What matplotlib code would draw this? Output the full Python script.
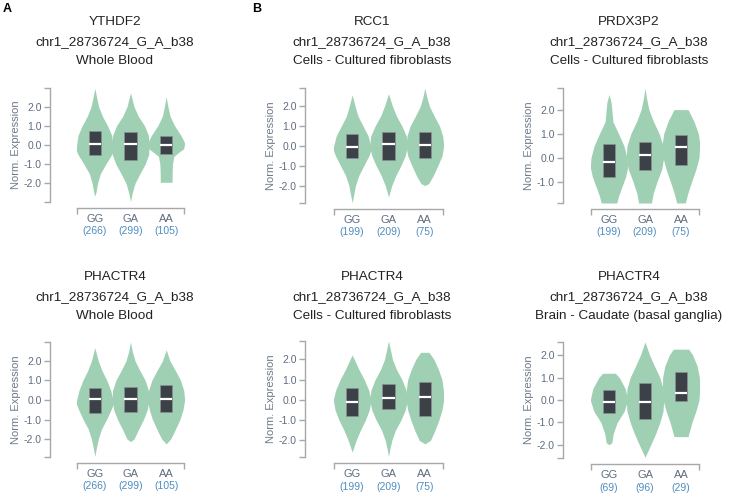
import matplotlib.pyplot as plt

plt.rcParams['font.family'] = ['Liberation Sans', 'DejaVu Sans']

genotypes = ['GG', 'GA', 'AA']
snp = 'chr1_28736724_G_A_b38'

genes = ['YTHDF2', 'RCC1', 'PRDX3P2', 'PHACTR4', 'PHACTR4', 'PHACTR4']
tissues = ['Whole Blood', 'Cells - Cultured fibroblasts', 'Cells - Cultured fibroblasts',
           'Whole Blood', 'Cells - Cultured fibroblasts', 'Brain - Caudate (basal ganglia)']
counts = [[266, 299, 105], [199, 209, 75], [199, 209, 75],
          [266, 299, 105], [199, 209, 75], [69, 96, 29]]

# box stats per panel (GG, GA, AA)
q1 = [[-0.55, -0.79, -0.50], [-0.60, -0.73, -0.60], [-0.80, -0.51, -0.32],
      [-0.69, -0.61, -0.59], [-0.81, -0.44, -0.81], [-0.59, -0.85, -0.03]]
med = [[0.07, 0.03, -0.02], [-0.07, 0.10, 0.03], [-0.18, 0.10, 0.43],
       [0.05, 0.05, 0.05], [-0.08, 0.10, 0.13], [-0.07, -0.10, 0.32]]
q3 = [[0.70, 0.67, 0.46], [0.58, 0.72, 0.72], [0.58, 0.65, 0.96],
      [0.61, 0.69, 0.78], [0.61, 0.77, 0.90], [0.45, 0.75, 1.26]]

ylims = [(-2.98, 2.97), (-2.88, 2.92), (-1.89, 2.90),
         (-2.92, 2.97), (-2.82, 2.91), (-2.58, 2.58)]
yticks = [[-2, -1, 0, 1, 2], [-2, -1, 0, 1, 2], [-1, 0, 1, 2],
          [-2, -1, 0, 1, 2], [-2, -1, 0, 1, 2], [-2, -1, 0, 1, 2]]

# violin outlines: (expression values, relative widths)
p1_gg = ([-2.67, -2.5, -2.0, -1.5, -1.0, -0.5, -0.3, 0.0, 0.5, 1.0, 1.5, 2.0, 2.5, 2.95],
         [0, 3, 8, 16, 32, 49, 54, 53, 49, 37, 22, 11, 5, 0])
p1_ga = ([-2.96, -2.5, -2.0, -1.5, -1.0, -0.5, 0.0, 0.5, 1.0, 1.5, 2.0, 2.72],
         [0, 5, 13, 27, 42, 52, 53, 51, 40, 22, 10, 0])
p1_aa = ([-1.95, -1.5, -1.0, -0.6, -0.4, -0.2, 0.1, 0.5, 1.0, 1.5, 2.0, 2.51],
         [17, 17, 18, 22, 35, 50, 53, 42, 24, 11, 5, 0])

p2_gg = ([-2.87, -2.5, -2.0, -1.5, -1.0, -0.5, -0.2, 0.0, 0.5, 1.0, 1.5, 2.0, 2.58],
         [0, 4, 9, 18, 32, 46, 52, 51, 44, 30, 16, 8, 0])
p2_ga = ([-2.58, -2.0, -1.5, -1.0, -0.5, 0.0, 0.5, 1.0, 1.5, 2.0, 2.63],
         [0, 9, 20, 34, 46, 52, 49, 37, 22, 11, 0])
p2_aa = ([-2.0, -1.9, -1.5, -1.0, -0.5, 0.0, 0.5, 1.0, 1.5, 2.0, 2.5, 2.92],
         [0, 11, 24, 37, 49, 54, 51, 42, 27, 13, 5, 0])

p3_gg = ([-1.89, -1.6, -1.2, -0.8, -0.4, 0.0, 0.5, 1.0, 1.5, 2.0, 2.3, 2.63],
         [22, 27, 37, 47, 53, 51, 42, 27, 11, 8, 6, 0])
p3_ga = ([-1.89, -1.5, -1.0, -0.5, 0.0, 0.5, 1.0, 1.5, 2.0, 2.5, 2.9],
         [18, 23, 34, 47, 53, 51, 40, 24, 11, 4, 0])
p3_aa = ([-1.89, -1.5, -1.0, -0.5, 0.0, 0.6, 1.0, 1.5, 2.0],
         [12, 19, 30, 42, 51, 53, 49, 37, 20])

p4_gg = ([-2.89, -2.5, -2.0, -1.5, -1.0, -0.5, -0.2, 0.0, 0.5, 1.0, 1.5, 2.0, 2.68],
         [0, 4, 10, 19, 34, 47, 54, 53, 46, 35, 21, 10, 0])
p4_ga = ([-2.13, -2.0, -1.5, -1.0, -0.5, 0.0, 0.5, 1.0, 1.5, 2.0, 2.5, 2.97],
         [0, 10, 23, 37, 48, 53, 51, 42, 27, 13, 5, 0])
p4_aa = ([-2.25, -2.0, -1.5, -1.0, -0.5, 0.0, 0.5, 1.0, 1.5, 2.0, 2.57],
         [0, 13, 27, 40, 49, 54, 51, 42, 27, 11, 0])

p5_gg = ([-2.58, -2.0, -1.5, -1.0, -0.5, 0.0, 0.5, 1.0, 1.5, 2.0, 2.22],
         [0, 11, 23, 37, 48, 53, 46, 34, 19, 6, 0])
p5_ga = ([-2.8, -2.5, -2.0, -1.5, -1.0, -0.5, 0.0, 0.5, 1.0, 1.5, 2.0, 2.5, 2.91],
         [0, 3, 9, 19, 34, 46, 52, 48, 37, 22, 11, 5, 0])
p5_aa = ([-2.17, -2.0, -1.5, -1.0, -0.5, 0.0, 0.5, 1.0, 1.5, 2.0, 2.35],
         [0, 16, 29, 40, 49, 54, 53, 49, 39, 26, 12])

p6_gg = ([-1.99, -1.9, -1.5, -1.0, -0.5, 0.0, 0.5, 1.0, 1.19],
         [0, 8, 12, 23, 43, 53, 46, 29, 18])
p6_ga = ([-2.55, -2.0, -1.5, -1.0, -0.5, 0.0, 0.5, 1.0, 1.5, 2.0, 2.58],
         [0, 16, 30, 42, 51, 53, 51, 42, 27, 13, 0])
p6_aa = ([-1.63, -1.5, -1.0, -0.5, 0.0, 0.5, 1.0, 1.5, 2.0, 2.26],
         [20, 22, 31, 42, 51, 53, 52, 46, 33, 22])

profiles = [[p1_gg, p1_ga, p1_aa], [p2_gg, p2_ga, p2_aa], [p3_gg, p3_ga, p3_aa],
            [p4_gg, p4_ga, p4_aa], [p5_gg, p5_ga, p5_aa], [p6_gg, p6_ga, p6_aa]]

violin_color = '#a0d0b3'
box_color = '#3c4047'
axis_color = '#a8a8a8'
text_gray = '#5f6d80'
count_blue = '#4f8cc0'

W, H = 738, 499
fig = plt.figure(figsize=(W / 100, H / 100), dpi=100)

# axes rectangles in pixels: left, top, right, bottom
rects = [(77, 88, 184, 202), (334, 88, 443, 203), (591, 88, 699, 203),
         (77, 342, 184, 457), (334, 341, 443, 457), (591, 342, 699, 458)]
yaxis_x = [50, 305, 563, 50, 305, 563]
title_x = [115, 372, 629, 115, 372, 629]
title_y = [(22, 42, 61), (22, 42, 61), (22, 42, 61),
           (277, 297, 316), (277, 297, 316), (277, 297, 316)]

px = 72 / 100  # pixels -> points

for i in range(6):
    l, t, r, b = rects[i]
    ax = fig.add_axes([l / W, 1 - b / H, (r - l) / W, (b - t) / H])
    for j in range(3):
        ys, ws = profiles[i][j]
        m = max(ws)
        half = [w / m * 0.52 for w in ws]
        ax.fill_betweenx(ys, [j - h for h in half], [j + h for h in half],
                         color=violin_color, lw=0)
        ax.bar(j, q3[i][j] - q1[i][j], bottom=q1[i][j], width=0.34,
               color=box_color, edgecolor='#8a8f96', linewidth=0.5, zorder=3)
        ax.plot([j - 0.17, j + 0.17], [med[i][j], med[i][j]],
                color='white', lw=1.6, zorder=4, solid_capstyle='butt')

    ax.set_xlim(-0.5, 2.5)
    ax.set_ylim(*ylims[i])
    for s in ['top', 'right']:
        ax.spines[s].set_visible(False)
    ax.spines['left'].set_position(('outward', (l - yaxis_x[i]) * px))
    ax.spines['bottom'].set_position(('outward', 6 * px))
    for s in ['left', 'bottom']:
        ax.spines[s].set_color(axis_color)
        ax.spines[s].set_linewidth(1)

    ax.set_yticks(yticks[i])
    ax.set_yticklabels(['%.1f' % v for v in yticks[i]])
    ax.set_yticks(list(ylims[i]), minor=True)
    ax.tick_params(axis='y', which='both', length=6 * px, width=1, color=axis_color,
                   labelsize=7.5, labelcolor=text_gray, pad=1.5)
    ax.set_xticks([0, 1, 2])
    ax.set_xticklabels(genotypes)
    ax.set_xticks([-0.5, 2.5], minor=True)
    ax.tick_params(axis='x', which='major', length=0, labelsize=8,
                   labelcolor=text_gray, pad=4)
    ax.tick_params(axis='x', which='minor', length=6 * px, width=1, color=axis_color)
    trans = ax.get_xaxis_transform()
    for j in range(3):
        ax.text(j, -0.255, '(%d)' % counts[i][j], transform=trans, ha='center',
                va='center', fontsize=7.5, color=count_blue)
    ax.set_ylabel('Norm. Expression', fontsize=8, color='#6e7a88', labelpad=2)
    ax.patch.set_alpha(0)

    for k, line in enumerate([genes[i], snp, tissues[i]]):
        fig.text(title_x[i] / W, 1 - title_y[i][k] / H, line, ha='center', va='center',
                 fontsize=9.7, color='#222222')

fig.text(3 / W, 1 - 9 / H, 'A', fontsize=9, fontweight='bold', va='center', ha='left')
fig.text(252 / W, 1 - 9 / H, 'B', fontsize=9, fontweight='bold', va='center', ha='left')

fig.savefig('out.png', dpi=100)
